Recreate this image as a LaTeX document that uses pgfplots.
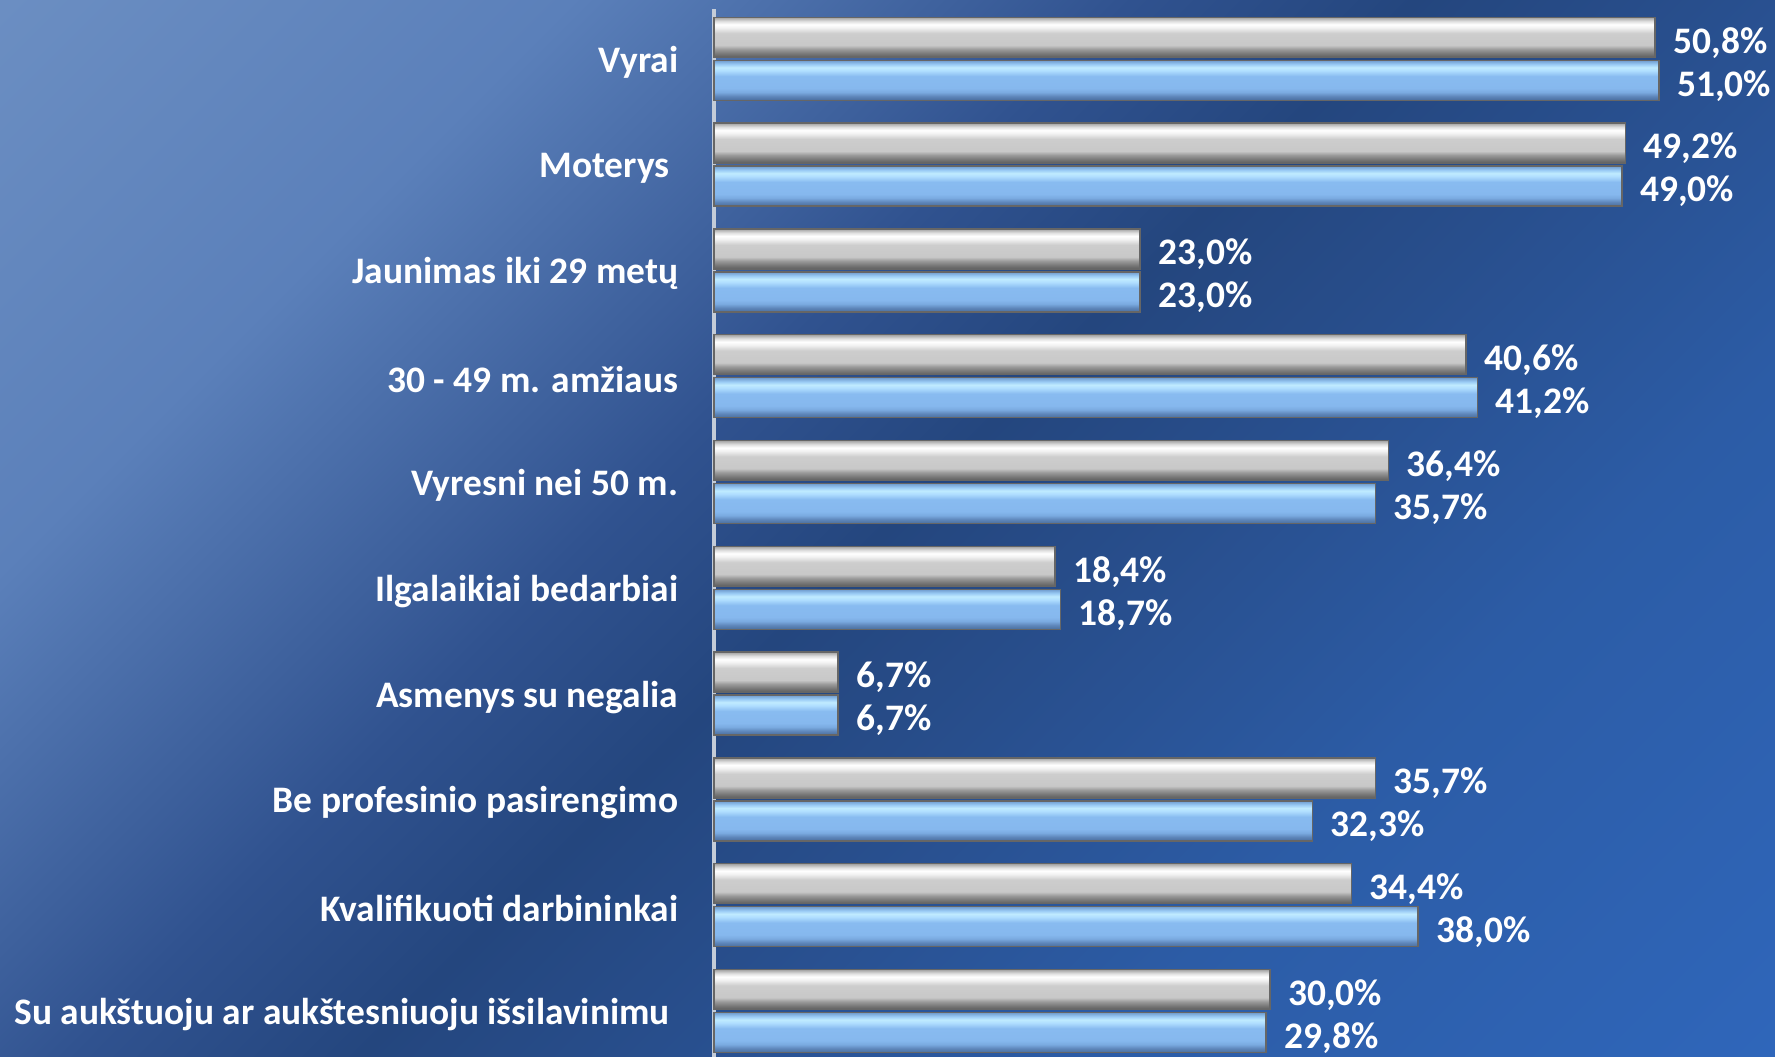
\documentclass[border=0pt]{standalone}
\usepackage{pgfplots}
\pgfplotsset{compat=1.18}
\usepackage{fontspec}
\setmainfont{Carlito}
\definecolor{bgA}{HTML}{2F66BA}
\definecolor{bgB}{HTML}{2C5CA6}
\definecolor{bgC}{HTML}{284E8C}
\definecolor{bgD}{HTML}{24467E}
\definecolor{bgE}{HTML}{30528F}
\definecolor{bgF}{HTML}{5B80BA}
\definecolor{bgG}{HTML}{6B8EC2}
\definecolor{axisline}{HTML}{C4CCD8}
\pgfdeclareverticalshading{bgshade}{100bp}{color(0bp)=(bgA); color(14.6bp)=(bgA); color(31.6bp)=(bgB); color(42.9bp)=(bgC); color(50bp)=(bgD); color(57.1bp)=(bgE); color(71.2bp)=(bgF); color(85.4bp)=(bgG); color(100bp)=(bgG)}
\definecolor{g1}{HTML}{5E5E5E}
\definecolor{g2}{HTML}{7A7A7A}
\definecolor{g3}{HTML}{9A9A9A}
\definecolor{g4}{HTML}{C8C8C8}
\definecolor{g5}{HTML}{CDCDCD}
\definecolor{g6}{HTML}{F2F2F2}
\definecolor{g7}{HTML}{FFFFFF}
\definecolor{g8}{HTML}{E0E0E0}
\definecolor{g9}{HTML}{A0A0A0}
\pgfdeclareverticalshading{graybar}{100bp}{color(0bp)=(g1); color(25bp)=(g1); color(30bp)=(g2); color(35bp)=(g3); color(40bp)=(g4); color(55bp)=(g5); color(62bp)=(g6); color(66bp)=(g7); color(70bp)=(g8); color(75bp)=(g9); color(100bp)=(g9)}
\definecolor{b1}{HTML}{4A6E9E}
\definecolor{b2}{HTML}{5E86BA}
\definecolor{b3}{HTML}{7AAAE0}
\definecolor{b4}{HTML}{86B8EE}
\definecolor{b5}{HTML}{88BBF0}
\definecolor{b6}{HTML}{B0DEFF}
\definecolor{b7}{HTML}{C0EBFF}
\definecolor{b8}{HTML}{9ACBF5}
\definecolor{b9}{HTML}{6E9ACC}
\pgfdeclareverticalshading{bluebar}{100bp}{color(0bp)=(b1); color(25bp)=(b1); color(30bp)=(b2); color(35bp)=(b3); color(40bp)=(b4); color(55bp)=(b5); color(62bp)=(b6); color(66bp)=(b7); color(70bp)=(b8); color(75bp)=(b9); color(100bp)=(b9)}
\pgfplotsset{
  graystyle/.style={shading=graybar, draw=black!60, line width=0.4pt, bar shift=2.15mm},
  bluestyle/.style={shading=bluebar, draw=black!60, line width=0.4pt, bar shift=-2.15mm},
}
\newcommand{\gbar}[2]{\addplot[graystyle] coordinates {(#1,#2)};}
\newcommand{\bbar}[2]{\addplot[bluestyle] coordinates {(#1,#2)};}
\begin{document}
\begin{tikzpicture}
\path[shading=bgshade, shading angle=45] (-71.4mm,0) rectangle (106.1mm,105.7mm);
\begin{axis}[
  scale only axis, width=101.9mm, height=104.8mm,
  at={(0,0)}, anchor=south west,
  xmin=0, xmax=55, ymin=-0.47, ymax=9.435, y dir=reverse,
  enlargelimits=false, clip=false,
  hide x axis, axis y line*=left,
  y axis line style={draw=axisline, line width=0.9pt, -},
  ytick={0,...,9},
  yticklabels={Vyrai, Moterys\hspace*{0.23em}, Jaunimas iki 29 metų, 30 - 49 m. amžiaus, Vyresni nei 50 m., Ilgalaikiai bedarbiai, Asmenys su negalia, Be profesinio pasirengimo, Kvalifikuoti darbininkai, Su aukštuoju ar aukštesniuoju išsilavinimu\hspace*{0.23em}},
  major tick length=0pt,
  yticklabel style={font=\fontsize{10.65}{12}\selectfont\bfseries, text=white, anchor=east, inner sep=0pt, xshift=-3.5mm, yshift=-0.35mm},
  xbar, bar width=4mm,
  /pgf/number format/assume math mode=true,
  nodes near coords={\pgfmathprintnumber[fixed, fixed zerofill, precision=1, use comma, assume math mode=true]{\pgfplotspointmeta}\%},
  every node near coord/.append style={font=\fontsize{10.65}{12}\selectfont\bfseries, text=white, xshift=0.6mm, yshift=-0.55mm},
]
\gbar{50.8}{0} \gbar{49.2}{1} \gbar{23.0}{2} \gbar{40.6}{3} \gbar{36.4}{4}
\gbar{18.4}{5} \gbar{6.7}{6} \gbar{35.7}{7} \gbar{34.4}{8} \gbar{30.0}{9}
\bbar{51.0}{0} \bbar{49.0}{1} \bbar{23.0}{2} \bbar{41.2}{3} \bbar{35.7}{4}
\bbar{18.7}{5} \bbar{6.7}{6} \bbar{32.3}{7} \bbar{38.0}{8} \bbar{29.8}{9}
\end{axis}
\pgfresetboundingbox
\useasboundingbox (-71.4mm,0) rectangle (106.1mm,105.7mm);
\end{tikzpicture}
\end{document}
